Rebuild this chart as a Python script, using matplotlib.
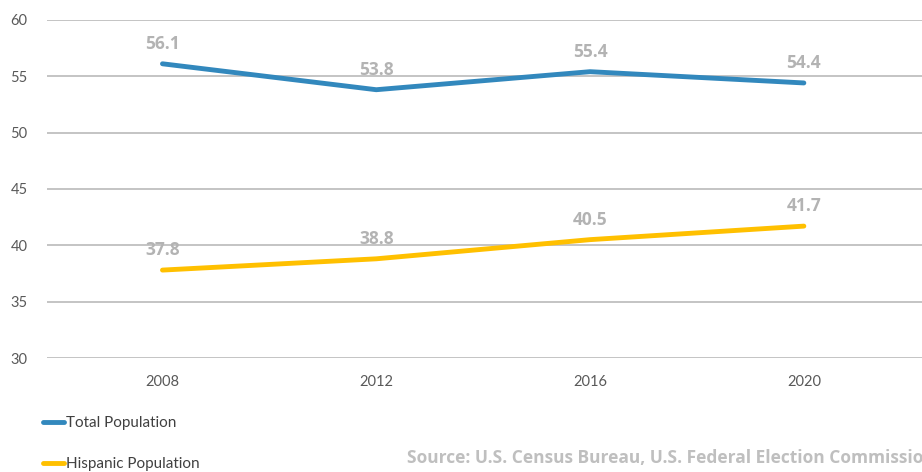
import matplotlib.pyplot as plt

# Datos
years = ["2008", "2012", "2016", "2020"]
total_pop = [56.1, 53.8, 55.4, 54.4]
hispanic_pop = [37.8, 38.8, 40.5, 41.7]
yticks = [30, 35, 40, 45, 50, 55, 60]

plt.rcParams['font.family'] = ['Lato', 'DejaVu Sans']
bold_font = ['Open Sans', 'DejaVu Sans']

fig = plt.figure(figsize=(9.22, 4.72), dpi=100)
ax = fig.add_axes([0.051, 0.2415, 0.96, 0.7165])

x = range(len(years))
l1, = ax.plot(x, total_pop, color='#3288BD', lw=3.5, solid_capstyle='round', label='Total Population')
l2, = ax.plot(x, hispanic_pop, color='#FFC000', lw=3.5, solid_capstyle='round', label='Hispanic Population')

# Etiquetas de valores
for serie in (total_pop, hispanic_pop):
    for i, v in enumerate(serie):
        ax.annotate(f"{v}", (i, v), xytext=(0, 20), textcoords='offset pixels',
                    ha='center', va='center', fontsize=12.5, fontweight='bold',
                    color='#B3B3B3', family=bold_font)

ax.set_xlim(-0.54, 3.6)
ax.set_ylim(30, 60)
ax.set_yticks(yticks)
ax.set_xticks(list(x))
ax.set_xticklabels(years)
ax.yaxis.grid(True, color='#BFBFBF', lw=1.3)
ax.set_axisbelow(True)
for s in ax.spines.values():
    s.set_visible(False)
ax.tick_params(length=0, labelsize=10.5, labelcolor='#595959')
ax.tick_params(axis='y', pad=14)
ax.tick_params(axis='x', pad=12)

fig.legend(handles=[l1, l2], loc='upper left', bbox_to_anchor=(0.038, 0.134),
           frameon=False, fontsize=11, labelcolor='#404040', handlelength=1.4,
           handletextpad=0.1, labelspacing=1.75, borderpad=0)

fig.text(0.441, 0.03, "Source: U.S. Census Bureau, U.S. Federal Election Commission",
         fontsize=12.5, fontweight='bold', color='#BFBFBF', va='center', ha='left',
         family=bold_font)

fig.savefig('out.png', dpi=100)
